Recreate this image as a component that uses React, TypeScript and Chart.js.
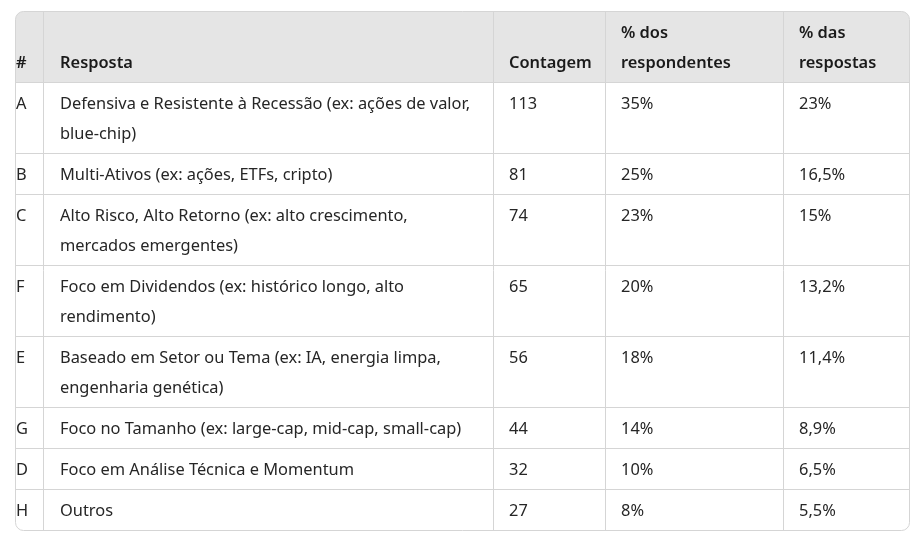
import React, { useEffect, useRef } from 'react';
import { Chart, registerables } from 'chart.js';
Chart.register(...registerables);

// ---- data ----
const headers: string[][] = [['#'], ['Resposta'], ['Contagem'], ['% dos', 'respondentes'], ['% das', 'respostas']];
const ids = ['A', 'B', 'C', 'F', 'E', 'G', 'D', 'H'];
const responses: string[][] = [
  ['Defensiva e Resistente à Recessão (ex: ações de valor,', 'blue-chip)'],
  ['Multi-Ativos (ex: ações, ETFs, cripto)'],
  ['Alto Risco, Alto Retorno (ex: alto crescimento,', 'mercados emergentes)'],
  ['Foco em Dividendos (ex: histórico longo, alto', 'rendimento)'],
  ['Baseado em Setor ou Tema (ex: IA, energia limpa,', 'engenharia genética)'],
  ['Foco no Tamanho (ex: large-cap, mid-cap, small-cap)'],
  ['Foco em Análise Técnica e Momentum'],
  ['Outros'],
];
const counts = [113, 81, 74, 65, 56, 44, 32, 27];
const pctRespondents = [35, 25, 23, 20, 18, 14, 10, 8];
const pctResponses = [23, 16.5, 15, 13.2, 11.4, 8.9, 6.5, 5.5];

// ---- layout / style ----
const COL_EDGES = [0, 28, 478, 590, 768, 894];
const PAD_LEFT = [1, 16.5, 16, 16, 16];
const LINE = 30;
const PAD_T = 6;
const PAD_B = 5;
const TEXT_SHIFT = 1.5;
const FONT_FAMILY = '"Segoe UI", "Noto Sans", sans-serif';
const FONT_SIZE = 16.4;
const HEADER_BG = '#e5e5e5';
const BORDER = '#d5d5d5';
const HEADER_COLOR = '#1a1a1a';
const BODY_COLOR = '#262626';

const fmt = (v: number) => String(v).replace('.', ',') + '%';

type Row = { lines: string[][]; header: boolean };

function buildRows(): Row[] {
  const rows: Row[] = [{ lines: headers, header: true }];
  ids.forEach((id, i) => {
    rows.push({
      header: false,
      lines: [[id], responses[i], [String(counts[i])], [fmt(pctRespondents[i])], [fmt(pctResponses[i])]],
    });
  });
  return rows;
}

const rowsData = buildRows();
const rowHeights = rowsData.map((r) => Math.max(...r.lines.map((l) => l.length)) * LINE + PAD_T + PAD_B);
const totalHeight = rowHeights.reduce((a, b) => a + b, 0);

const tablePlugin = {
  id: 'tablePlugin',
  afterDraw(chart: any) {
    const ctx: CanvasRenderingContext2D = chart.ctx;
    const xs = chart.scales.x;
    const ys = chart.scales.y;
    const X = (v: number) => Math.round(xs.getPixelForValue(v));
    const Y = (v: number) => Math.round(ys.getPixelForValue(v));
    const left = X(COL_EDGES[0]);
    const right = X(COL_EDGES[COL_EDGES.length - 1]);
    const top = Y(0);
    const bottom = Y(totalHeight);
    const radius = 8;

    ctx.save();
    ctx.beginPath();
    (ctx as any).roundRect(left + 0.5, top + 0.5, right - left, bottom - top, radius);
    ctx.save();
    ctx.clip();
    ctx.fillStyle = HEADER_BG;
    ctx.fillRect(left, top, right - left, Y(rowHeights[0]) - top);
    ctx.restore();

    ctx.strokeStyle = BORDER;
    ctx.lineWidth = 1;
    let acc = 0;
    for (let r = 0; r < rowHeights.length - 1; r++) {
      acc += rowHeights[r];
      const y = Y(acc) + 0.5;
      ctx.beginPath();
      ctx.moveTo(left, y);
      ctx.lineTo(right, y);
      ctx.stroke();
    }
    for (let c = 1; c < COL_EDGES.length - 1; c++) {
      const x = X(COL_EDGES[c]) + 0.5;
      ctx.beginPath();
      ctx.moveTo(x, top);
      ctx.lineTo(x, bottom);
      ctx.stroke();
    }
    ctx.beginPath();
    (ctx as any).roundRect(left + 0.5, top + 0.5, right - left, bottom - top, radius);
    ctx.stroke();

    ctx.textBaseline = 'middle';
    ctx.textAlign = 'left';
    acc = 0;
    rowsData.forEach((row, r) => {
      const rowTop = acc;
      const h = rowHeights[r];
      const maxLines = (h - PAD_T - PAD_B) / LINE;
      ctx.font = (row.header ? '600 ' : '400 ') + FONT_SIZE + 'px ' + FONT_FAMILY;
      ctx.fillStyle = row.header ? HEADER_COLOR : BODY_COLOR;
      row.lines.forEach((lines, c) => {
        const offset = row.header ? maxLines - lines.length : 0;
        lines.forEach((t, li) => {
          const yv = rowTop + PAD_T + (offset + li) * LINE + LINE / 2;
          ctx.fillText(t, X(COL_EDGES[c] + PAD_LEFT[c]), Y(yv) + TEXT_SHIFT);
        });
      });
      acc += h;
    });
    ctx.restore();
  },
};

export default function App() {
  const ref = useRef<HTMLCanvasElement | null>(null);
  useEffect(() => {
    if (!ref.current) return;
    const chart = new Chart(ref.current, {
      type: 'scatter',
      data: { datasets: [] },
      options: {
        animation: false,
        responsive: false,
        devicePixelRatio: 1,
        layout: { padding: { left: 7, top: 3, right: 4, bottom: 5 } },
        plugins: { legend: { display: false }, tooltip: { enabled: false } },
        scales: {
          x: { type: 'linear', display: false, min: 0, max: COL_EDGES[COL_EDGES.length - 1] },
          y: { type: 'linear', display: false, reverse: true, min: 0, max: totalHeight },
        },
      },
      plugins: [tablePlugin],
    } as any);
    return () => chart.destroy();
  }, []);
  return (
    <div style={{ width: 905, height: 527 }}>
      <canvas ref={ref} width={905} height={527} style={{ display: 'block' }} />
    </div>
  );
}
